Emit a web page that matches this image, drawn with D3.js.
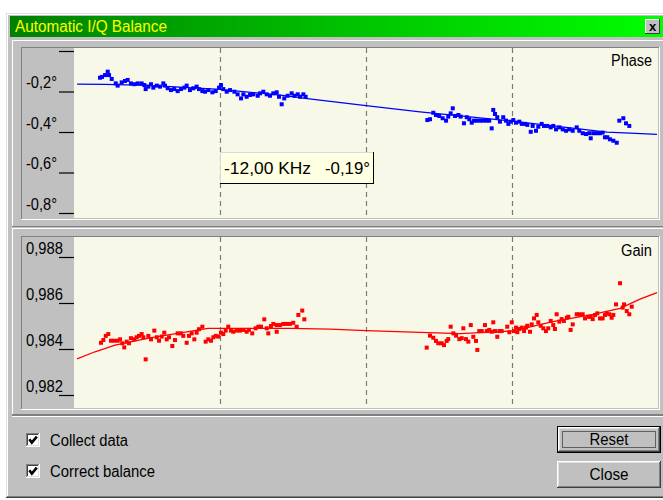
<!DOCTYPE html>
<html>
<head>
<meta charset="utf-8">
<script src="https://cdn.jsdelivr.net/npm/d3@7"></script>
<style>
  html, body { margin: 0; padding: 0; background: #ffffff; }
  svg { display: block; font-family: "Liberation Sans", Arial, sans-serif; }
</style>
</head>
<body>
<svg id="dlg" width="663" height="500"></svg>
<script>
// ---- Frequency axis (kHz) and vertical grid ----
const freqDomain = [-24, 24];
const gridKHz = [-12, 0, 12];

// ---- Axis ticks ----
const phaseTicks = [0, -0.2, -0.4, -0.6, -0.8];
const phaseTickLabels = ["", "-0,2°", "-0,4°", "-0,6°", "-0,8°"];
const gainTicks = [0.988, 0.986, 0.984, 0.982];
const gainTickLabels = ["0,988", "0,986", "0,984", "0,982"];

// ---- Phase measurements (kHz, degrees) ----
const phaseKHz = [
  -21.86, -21.70, -21.45, -21.23, -21.12, -20.90, -20.57, -20.41, -20.08, -19.81,
  -19.59, -19.32, -19.04, -18.76, -18.44, -18.22, -18.11, -17.89, -17.67, -17.48,
  -17.20, -16.93, -16.66, -16.52, -16.30, -16.03, -15.76, -15.48, -15.21, -14.93,
  -14.74, -14.47, -14.19, -13.92, -13.73, -13.45, -13.23, -12.96, -12.63, -12.35,
  -12.08, -11.92, -11.73, -11.45, -11.18, -10.82, -10.55, -10.27, -10.08, -9.81,
  -9.53, -9.26, -8.90, -8.71, -8.44, -8.16, -7.89, -7.62, -7.34, -7.15,
  -6.93, -6.72, -6.44, -6.11, -5.89, -5.61, -5.42, -5.15, -4.96,
  5.04, 5.26, 5.53, 5.75, 6.02, 6.30, 6.58, 6.76, 6.96, 7.13,
  7.32, 7.59, 7.78, 8.05, 8.28, 8.49, 8.69, 8.88, 9.10, 9.37,
  9.64, 9.92, 10.13, 10.33, 10.46, 10.60, 10.79, 11.01, 11.28, 11.51,
  11.70, 11.89, 12.11, 12.33, 12.60, 12.80, 13.07, 13.26, 13.54, 13.70,
  13.97, 14.16, 14.44, 14.63, 14.90, 15.18, 15.39, 15.62, 15.89, 16.17,
  16.44, 16.71, 16.99, 17.32, 17.53, 17.81, 18.08, 18.35, 18.47, 18.68,
  18.96, 19.23, 19.45, 19.64, 19.83, 20.05, 20.33, 20.61, 20.82, 21.15,
  21.37, 21.64
];
const phaseDeg = [
  -0.132, -0.128, -0.119, -0.102, -0.119, -0.138, -0.160, -0.171, -0.155, -0.148,
  -0.143, -0.160, -0.164, -0.160, -0.160, -0.168, -0.188, -0.176, -0.164, -0.181,
  -0.171, -0.176, -0.160, -0.171, -0.184, -0.193, -0.188, -0.198, -0.188, -0.181,
  -0.171, -0.193, -0.184, -0.176, -0.188, -0.198, -0.201, -0.193, -0.204, -0.198,
  -0.181, -0.168, -0.188, -0.201, -0.193, -0.201, -0.214, -0.234, -0.214, -0.226,
  -0.217, -0.214, -0.221, -0.209, -0.201, -0.214, -0.221, -0.209, -0.204, -0.226,
  -0.263, -0.234, -0.221, -0.209, -0.221, -0.214, -0.226, -0.214, -0.226,
  -0.341, -0.337, -0.305, -0.316, -0.321, -0.332, -0.344, -0.324, -0.308, -0.283,
  -0.321, -0.316, -0.324, -0.357, -0.327, -0.337, -0.354, -0.344, -0.344, -0.344,
  -0.344, -0.344, -0.344, -0.382, -0.291, -0.311, -0.327, -0.349, -0.327, -0.344,
  -0.360, -0.349, -0.341, -0.354, -0.349, -0.360, -0.360, -0.365, -0.399, -0.370,
  -0.394, -0.374, -0.360, -0.370, -0.370, -0.377, -0.370, -0.387, -0.377, -0.387,
  -0.394, -0.387, -0.394, -0.377, -0.394, -0.406, -0.410, -0.406, -0.431, -0.406,
  -0.406, -0.406, -0.403, -0.426, -0.426, -0.436, -0.443, -0.453, -0.344, -0.332,
  -0.357, -0.370
];
// Phase fitted curve
const phaseFitKHz = [-23.75, -21.5, -17.9, -12.0, -7.0, -5.0, 0.0, 4.44, 12.0, 19.81, 21.70, 23.92];
const phaseFitDeg = [-0.164, -0.165, -0.170, -0.190, -0.218, -0.234, -0.270, -0.301, -0.346, -0.401, -0.406, -0.412];

// ---- Gain measurements (kHz, ratio) ----
const gainKHz = [
  -21.78, -21.59, -21.39, -21.18, -20.96, -20.69, -20.41, -20.22, -20.03, -19.87,
  -19.67, -19.48, -19.32, -19.04, -18.85, -18.66, -18.44, -18.30, -18.11, -17.89,
  -17.67, -17.40, -17.20, -17.01, -16.79, -16.58, -16.38, -16.19, -15.92, -15.70,
  -15.48, -15.21, -15.02, -14.74, -14.55, -14.33, -14.11, -13.92, -13.73, -13.45,
  -13.18, -12.96, -12.74, -12.55, -12.35, -12.14, -11.92, -11.73, -11.53, -11.32,
  -11.10, -10.91, -10.63, -10.36, -10.08, -9.81, -9.62, -9.35, -9.07, -8.85,
  -8.63, -8.36, -8.16, -8.03, -7.81, -7.62, -7.34, -7.34, -7.07, -6.80,
  -6.52, -6.25, -5.98, -5.70, -5.56, -5.24, -5.07,
  4.99, 5.26, 5.53, 5.75, 5.94, 6.22, 6.41, 6.63, 6.76, 6.96,
  7.18, 7.40, 7.67, 7.87, 8.00, 8.22, 8.41, 8.61, 8.82, 9.04,
  9.15, 9.31, 9.51, 9.78, 9.92, 10.13, 10.33, 10.46, 10.60, 10.79,
  10.96, 11.15, 11.61, 11.78, 11.98, 12.16, 12.33, 12.44, 12.60, 12.80,
  12.99, 13.15, 13.26, 13.48, 13.62, 13.81, 14.03, 14.16, 14.36, 14.57,
  14.79, 14.98, 15.18, 15.39, 15.53, 15.67, 15.89, 16.08, 16.27, 16.50,
  16.63, 16.82, 16.99, 17.32, 17.53, 17.81, 18.00, 18.27, 18.47, 18.63,
  18.82, 19.01, 19.23, 19.45, 19.64, 19.78, 20.00, 20.19, 20.33, 20.55,
  20.88, 21.10, 21.21, 21.43, 21.64, 21.84
];
const gainVal = [
  0.98427, 0.98439, 0.98457, 0.98465, 0.98436, 0.98436, 0.98436, 0.98442, 0.98425, 0.98407,
  0.98432, 0.98425, 0.98447, 0.98442, 0.98451, 0.98457, 0.98465, 0.98451, 0.98355, 0.98457,
  0.98442, 0.98480, 0.98451, 0.98436, 0.98454, 0.98471, 0.98442, 0.98451, 0.98413, 0.98439,
  0.98468, 0.98468, 0.98457, 0.98427, 0.98457, 0.98468, 0.98442, 0.98471, 0.98486, 0.98497,
  0.98432, 0.98442, 0.98436, 0.98451, 0.98457, 0.98454, 0.98471, 0.98465, 0.98480, 0.98497,
  0.98480, 0.98475, 0.98480, 0.98480, 0.98483, 0.98475, 0.98483, 0.98468, 0.98490, 0.98497,
  0.98497, 0.98529, 0.98490, 0.98468, 0.98500, 0.98509, 0.98504, 0.98475, 0.98504, 0.98509,
  0.98509, 0.98509, 0.98514, 0.98497, 0.98548, 0.98567, 0.98529,
  0.98406, 0.98458, 0.98449, 0.98435, 0.98425, 0.98425, 0.98417, 0.98435, 0.98443, 0.98497,
  0.98468, 0.98458, 0.98443, 0.98447, 0.98490, 0.98443, 0.98432, 0.98504, 0.98453, 0.98435,
  0.98396, 0.98478, 0.98478, 0.98504, 0.98478, 0.98483, 0.98475, 0.98516, 0.98478, 0.98453,
  0.98478, 0.98478, 0.98497, 0.98473, 0.98516, 0.98478, 0.98493, 0.98473, 0.98487, 0.98493,
  0.98478, 0.98493, 0.98501, 0.98475, 0.98507, 0.98533, 0.98548, 0.98516, 0.98501, 0.98490,
  0.98478, 0.98490, 0.98522, 0.98504, 0.98487, 0.98551, 0.98519, 0.98530, 0.98522, 0.98536,
  0.98540, 0.98483, 0.98507, 0.98551, 0.98551, 0.98551, 0.98533, 0.98540, 0.98540, 0.98530,
  0.98548, 0.98555, 0.98533, 0.98533, 0.98548, 0.98555, 0.98551, 0.98536, 0.98548, 0.98594,
  0.98686, 0.98580, 0.98594, 0.98565, 0.98551, 0.98584
];
// Gain fitted curve
const gainFitKHz = [-23.75, -22.27, -20.63, -17.75, -12.99, -6.25, -2.96, 0.0, 4.44, 7.73, 12.0, 15.37, 18.66, 20.88, 22.52, 23.92];
const gainFitVal = [0.98357, 0.98388, 0.98417, 0.98448, 0.98490, 0.98490, 0.98486, 0.98480, 0.98472, 0.98467, 0.98478, 0.98519, 0.98551, 0.98577, 0.98617, 0.98645];

// ---- Cursor read-out ----
const cursorKHz = -12.00;
const cursorDeg = -0.19;

// ---------------------------------------------------------------
const svg = d3.select("#dlg");
const FACE = "#c0c0c0", DARK = "#808080", LIGHT = "#ffffff", BLACK = "#000000";
const PLOT_BG = "#f8f8e9";

// decimal comma, plain hyphen for negatives
const locale = d3.formatLocale({ decimal: ",", thousands: ".", grouping: [3], currency: ["", ""], minus: "-" });
const fmt = locale.format(".2f");

function hline(g, x1, x2, y, c) {
  g.append("line").attr("x1", x1).attr("x2", x2).attr("y1", y + 0.5).attr("y2", y + 0.5)
    .attr("stroke", c).attr("stroke-width", 1);
}
function vline(g, x, y1, y2, c) {
  g.append("line").attr("x1", x + 0.5).attr("x2", x + 0.5).attr("y1", y1).attr("y2", y2)
    .attr("stroke", c).attr("stroke-width", 1);
}
// 3D bevel: raised (tl light, br dark) or sunken (tl dark, br light)
function bevel(g, x, y, w, h, tl, br) {
  hline(g, x, x + w, y, tl);
  vline(g, x, y, y + h, tl);
  hline(g, x, x + w, y + h - 1, br);
  vline(g, x + w - 1, y, y + h, br);
}

// Dialog window
const win = svg.append("g");
win.append("rect").attr("x", 6).attr("y", 13).attr("width", 660).attr("height", 485).attr("fill", FACE);
hline(win, 6, 663, 13, "#dfdfdf");
vline(win, 6, 13, 498, "#dfdfdf");
hline(win, 7, 663, 14, LIGHT);
vline(win, 7, 14, 497, LIGHT);
hline(win, 6, 663, 497, "#404040");
hline(win, 7, 663, 496, DARK);

// Title bar
const grad = svg.append("defs").append("linearGradient").attr("id", "tbar")
  .attr("x1", "0%").attr("x2", "100%").attr("y1", "0%").attr("y2", "0%");
grad.append("stop").attr("offset", "0%").attr("stop-color", "#008000");
grad.append("stop").attr("offset", "100%").attr("stop-color", "#00ff00");
win.append("rect").attr("x", 10).attr("y", 16).attr("width", 653).attr("height", 21).attr("fill", "url(#tbar)");
win.append("text").attr("x", 15).attr("y", 32).attr("fill", "#ffff00")
  .attr("font-size", 16).attr("textLength", 152).attr("lengthAdjust", "spacingAndGlyphs")
  .text("Automatic I/Q Balance");
// close box
const cb = win.append("g");
cb.append("rect").attr("x", 645).attr("y", 19).attr("width", 15).attr("height", 15).attr("fill", FACE);
bevel(cb, 645, 19, 15, 15, LIGHT, "#404040");
cb.append("text").attr("x", 652.5).attr("y", 31).attr("text-anchor", "middle")
  .attr("font-size", 13).attr("font-weight", "bold").attr("fill", BLACK).text("x");

// Panels holding the two plots
bevel(win, 12, 40, 660, 187, LIGHT, DARK);
bevel(win, 12, 228, 660, 187, LIGHT, DARK);

// Shared frequency scale
const x = d3.scaleLinear().domain(freqDomain).range([74, 658]);

function drawPlot(cfg) {
  const g = svg.append("g");
  const top = cfg.top, bottom = cfg.bottom;
  // sunken frame around axis strip + plot
  g.append("rect").attr("x", 21).attr("y", top - 1).attr("width", 638).attr("height", bottom - top + 2).attr("fill", FACE);
  bevel(g, 21, top - 1, 639, bottom - top + 3, DARK, LIGHT);
  // plot background
  g.append("rect").attr("x", 74).attr("y", top).attr("width", 584).attr("height", bottom - top).attr("fill", PLOT_BG);

  const clipId = "clip-" + cfg.name;
  svg.append("defs").append("clipPath").attr("id", clipId)
    .append("rect").attr("x", 74).attr("y", top).attr("width", 584).attr("height", bottom - top);

  // dashed frequency grid
  g.append("g").selectAll("line").data(gridKHz).join("line")
    .attr("x1", d => Math.round(x(d)) + 0.5).attr("x2", d => Math.round(x(d)) + 0.5)
    .attr("y1", top).attr("y2", bottom)
    .attr("stroke", "#7a7a7a").attr("stroke-width", 1.2).attr("stroke-dasharray", "5,4");

  // y axis with short tick marks and labels sitting above them
  const ax = d3.axisLeft(cfg.y).tickValues(cfg.ticks).tickSize(15).tickSizeOuter(0)
    .tickFormat((d, i) => cfg.labels[i]);
  const ag = g.append("g").attr("transform", "translate(74,0)").call(ax);
  ag.select(".domain").remove();
  ag.selectAll(".tick line").attr("stroke", "#000").attr("stroke-width", 1.2);
  ag.selectAll(".tick text")
    .attr("x", -48).attr("y", -4).attr("dy", null)
    .attr("text-anchor", "start").attr("fill", "#000")
    .attr("font-family", "Liberation Sans, Arial, sans-serif").attr("font-size", 16)
    .attr("textLength", cfg.labelWidth).attr("lengthAdjust", "spacingAndGlyphs");
  ag.selectAll(".tick text").filter(function () { return this.textContent === ""; }).remove();
  ag.attr("font-family", null).attr("font-size", null);

  const data = g.append("g").attr("clip-path", `url(#${clipId})`);
  // fitted curve
  const fit = d3.zip(cfg.fitX, cfg.fitY);
  data.append("path").datum(fit)
    .attr("d", d3.line().x(d => x(d[0])).y(d => cfg.y(d[1])))
    .attr("fill", "none").attr("stroke", cfg.color).attr("stroke-width", 1.3);
  // measured points
  const pts = d3.zip(cfg.px, cfg.py);
  data.append("g").selectAll("rect").data(pts).join("rect")
    .attr("x", d => x(d[0]) - 2).attr("y", d => cfg.y(d[1]) - 2)
    .attr("width", 4).attr("height", 4).attr("fill", cfg.color);

  // plot name
  g.append("text").attr("x", 652).attr("y", cfg.nameY).attr("text-anchor", "end")
    .attr("font-size", 16).attr("fill", "#000")
    .attr("textLength", cfg.nameWidth).attr("lengthAdjust", "spacingAndGlyphs")
    .text(cfg.title);
  return g;
}

const yPhase = d3.scaleLinear().domain([0, -0.8]).range([51, 213]);
const yGain = d3.scaleLinear().domain([0.988, 0.982]).range([257, 395]);

const phaseG = drawPlot({
  name: "phase", top: 48, bottom: 218, y: yPhase,
  ticks: phaseTicks, labels: phaseTickLabels, labelWidth: 31,
  fitX: phaseFitKHz, fitY: phaseFitDeg, px: phaseKHz, py: phaseDeg,
  color: "#0000ff", title: "Phase", nameY: 66, nameWidth: 41
});
drawPlot({
  name: "gain", top: 237, bottom: 408, y: yGain,
  ticks: gainTicks, labels: gainTickLabels, labelWidth: 37,
  fitX: gainFitKHz, fitY: gainFitVal, px: gainKHz, py: gainVal,
  color: "#ff0000", title: "Gain", nameY: 256, nameWidth: 31
});

// Cursor read-out box at the selected frequency
const tipX = Math.round(x(cursorKHz));
const tip = phaseG.append("g").attr("transform", `translate(${tipX},152)`);
tip.append("rect").attr("width", 154).attr("height", 32).attr("fill", "#ffffe1");
hline(tip, 0, 154, 0, "#d8d8d8");
vline(tip, 0, 0, 32, "#d8d8d8");
hline(tip, 0, 154, 31, "#000");
vline(tip, 153, 0, 32, "#000");
tip.append("text").attr("x", 4).attr("y", 22).attr("font-size", 17).attr("fill", "#000")
  .attr("textLength", 87).attr("lengthAdjust", "spacingAndGlyphs")
  .text(`${fmt(cursorKHz)} KHz`);
tip.append("text").attr("x", 105).attr("y", 22).attr("font-size", 17).attr("fill", "#000")
  .attr("textLength", 45).attr("lengthAdjust", "spacingAndGlyphs")
  .text(`${fmt(cursorDeg)}°`);

// Bottom controls
const ctl = svg.append("g");
hline(ctl, 12, 663, 415, DARK);
hline(ctl, 12, 663, 416, LIGHT);

function checkbox(cy, label, width) {
  const g = ctl.append("g").attr("transform", `translate(26,${cy})`);
  g.append("rect").attr("width", 14).attr("height", 14).attr("fill", "#fff");
  bevel(g, 0, 0, 14, 14, DARK, LIGHT);
  bevel(g, 1, 1, 12, 12, "#404040", "#dfdfdf");
  g.append("path").attr("d", "M3.3,6.3 L5.8,9.6 L10.8,3.6")
    .attr("fill", "none").attr("stroke", "#000").attr("stroke-width", 2.6);
  ctl.append("text").attr("x", 50).attr("y", cy + 13).attr("font-size", 16).attr("fill", "#000")
    .attr("textLength", width).attr("lengthAdjust", "spacingAndGlyphs").text(label);
}
checkbox(433, "Collect data", 78);
checkbox(464, "Correct balance", 105);

function button(y, label, isDefault) {
  const g = ctl.append("g").attr("transform", `translate(557,${y})`);
  const w = 104, h = 27;
  g.append("rect").attr("width", w).attr("height", h).attr("fill", FACE);
  if (isDefault) {
    g.append("rect").attr("x", 0.5).attr("y", 0.5).attr("width", w - 1).attr("height", h - 1)
      .attr("fill", "none").attr("stroke", "#000");
    bevel(g, 1, 1, w - 2, h - 2, LIGHT, "#404040");
    bevel(g, 2, 2, w - 4, h - 4, "#dfdfdf", DARK);
    g.append("rect").attr("x", 5.5).attr("y", 5.5).attr("width", w - 11).attr("height", h - 11)
      .attr("fill", "none").attr("stroke", "#000").attr("stroke-dasharray", "1,1");
  } else {
    bevel(g, 0, 0, w, h, LIGHT, "#404040");
    bevel(g, 1, 1, w - 2, h - 2, "#dfdfdf", DARK);
  }
  g.append("text").attr("x", w / 2).attr("y", 19).attr("text-anchor", "middle")
    .attr("font-size", 16).attr("fill", "#000")
    .attr("textLength", 39).attr("lengthAdjust", "spacingAndGlyphs").text(label);
}
button(426, "Reset", true);
button(461, "Close", false);
</script>
</body>
</html>
